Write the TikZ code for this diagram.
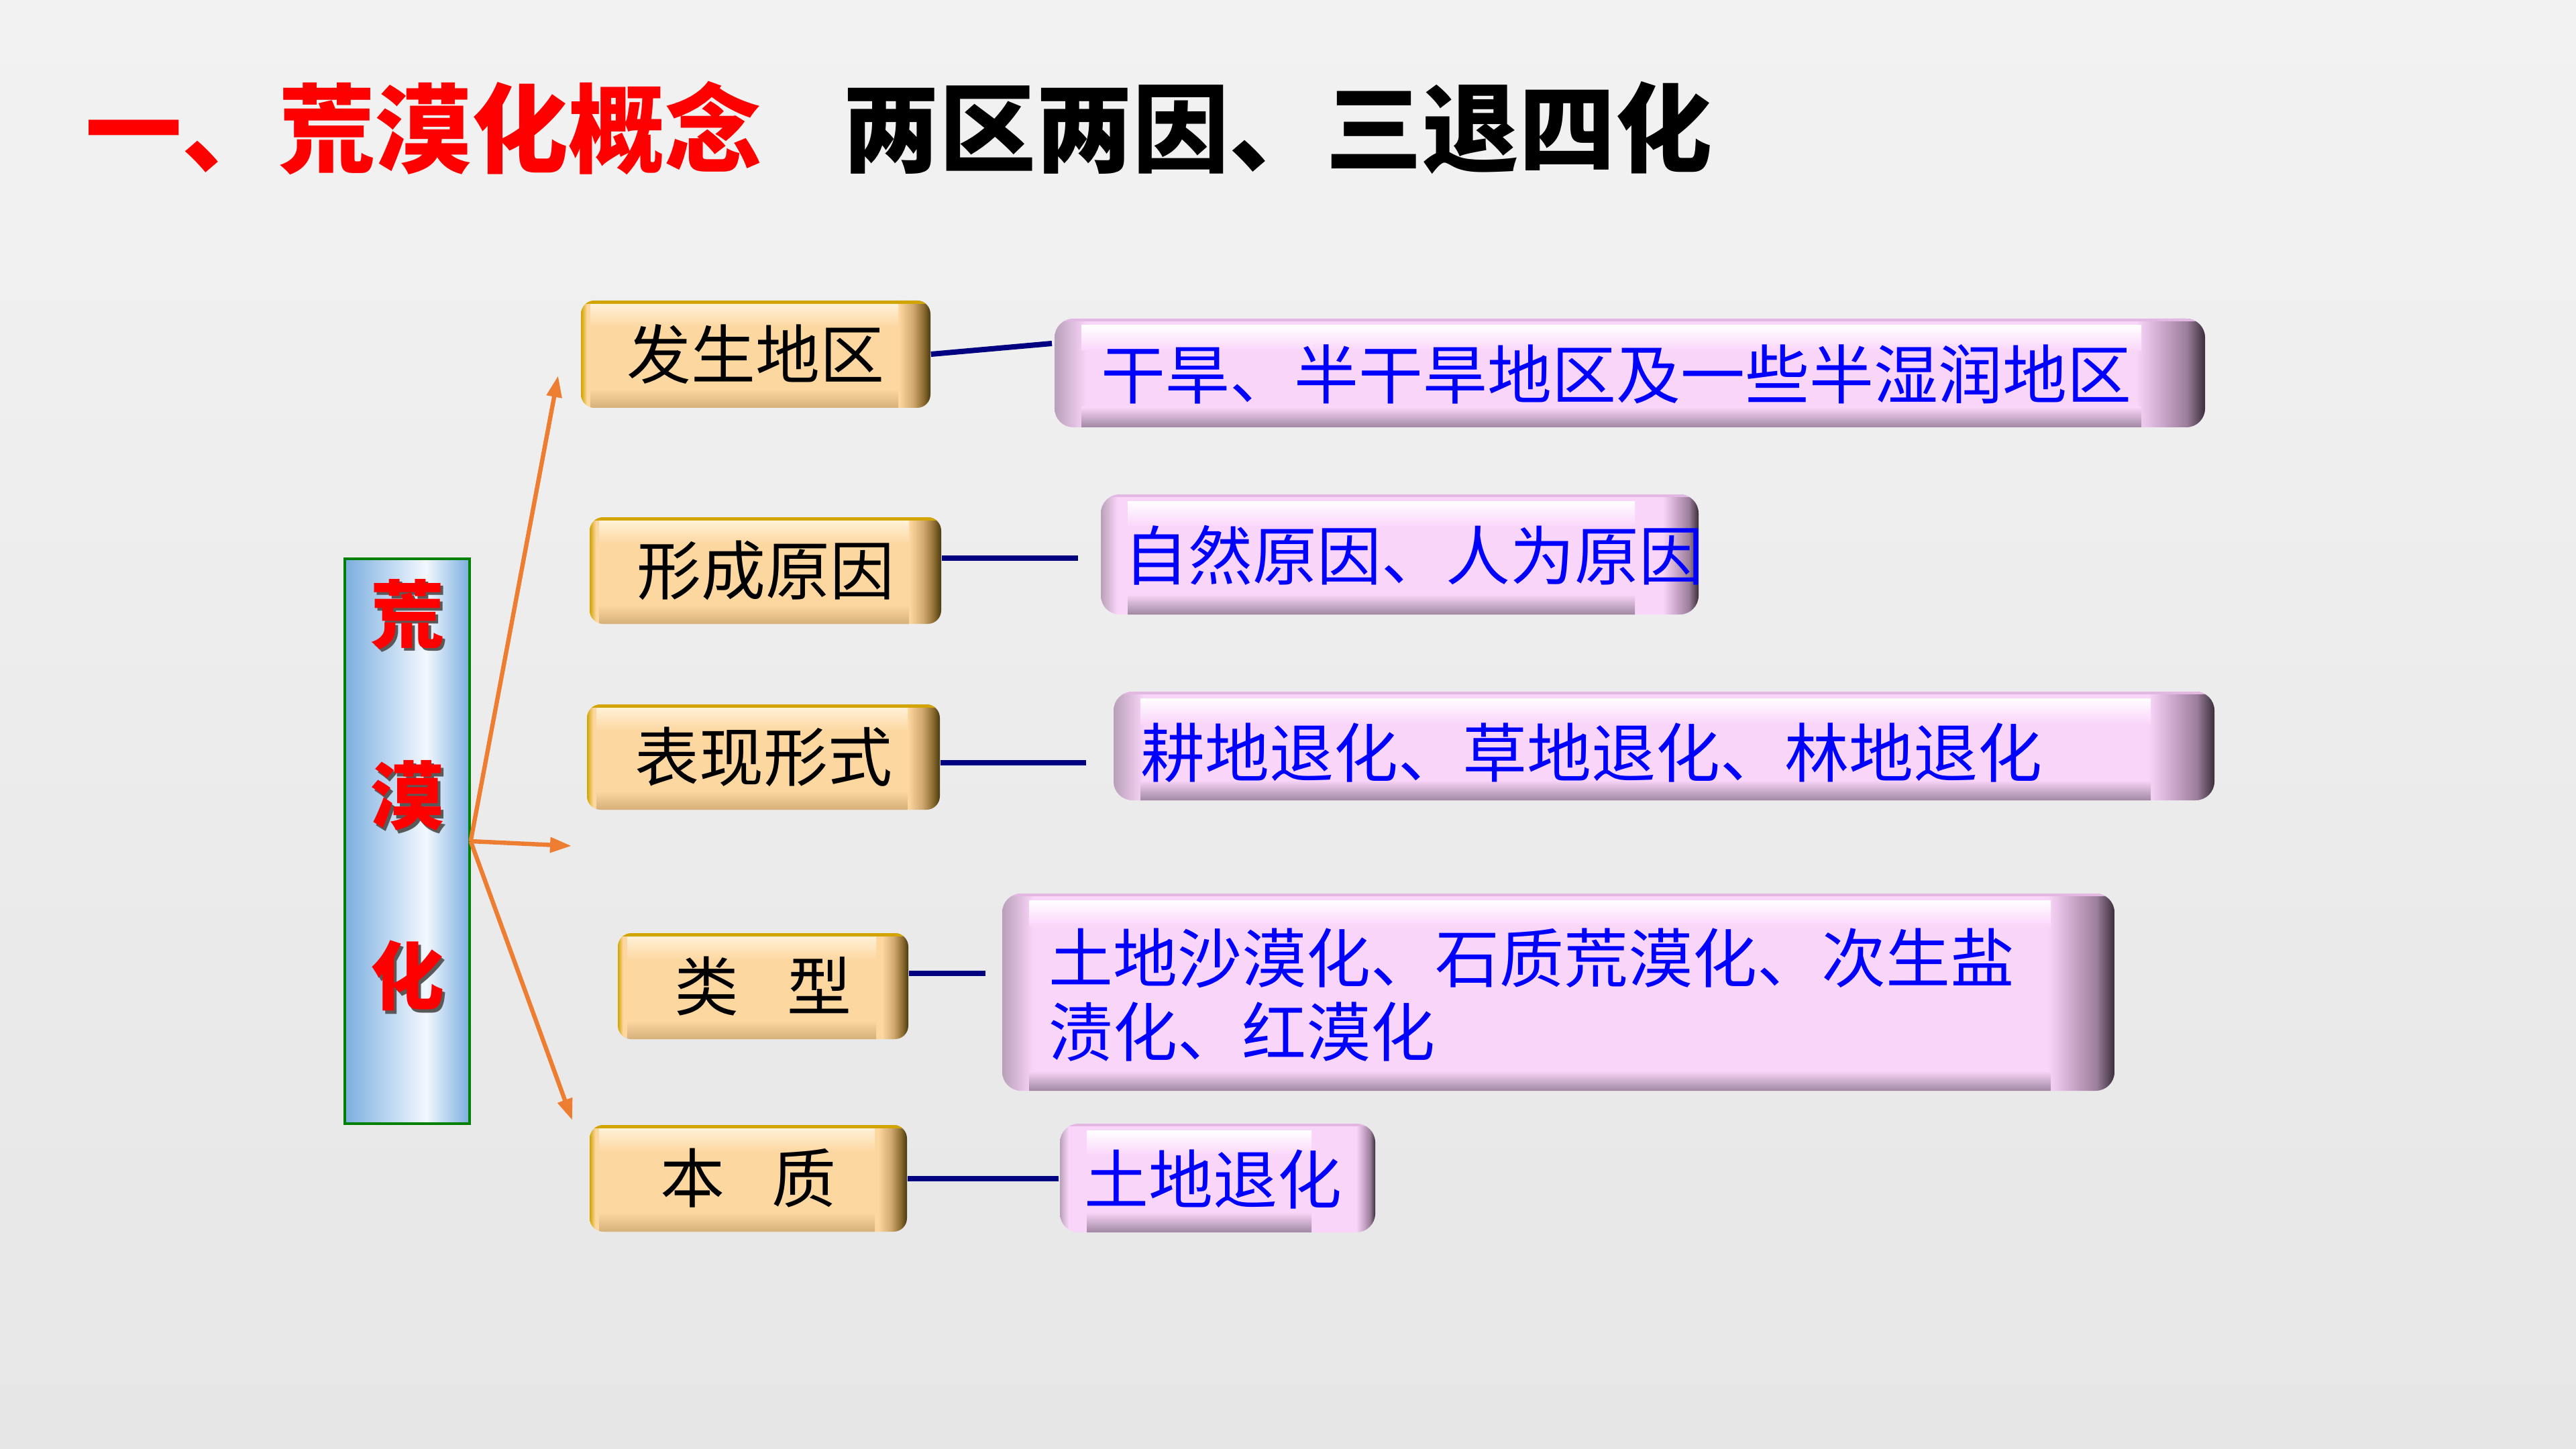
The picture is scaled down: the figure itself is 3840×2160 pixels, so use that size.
\documentclass[tikz,border=0pt]{standalone}
\usepackage{fontspec}
\newfontfamily\cjk{Noto Sans CJK SC}
\usetikzlibrary{fit,calc,arrows.meta}
\definecolor{bgTop}{HTML}{F2F2F2}
\definecolor{bgBot}{HTML}{E6E6E6}
\definecolor{peach}{HTML}{FDD7A0}
\definecolor{peachHi}{HTML}{FFF1D8}
\definecolor{peachLo}{HTML}{D6B07A}
\definecolor{pgold}{HTML}{D2A400}
\definecolor{pbrA}{HTML}{D0A870}
\definecolor{pbrB}{HTML}{8C6C30}
\definecolor{pbrC}{HTML}{4A3A10}
\definecolor{pinkM}{HTML}{FAD5FA}
\definecolor{pinkLo}{HTML}{A088A2}
\definecolor{pinkTop}{HTML}{E2B8E2}
\definecolor{pinkL}{HTML}{B8A0B8}
\definecolor{pinkR1}{HTML}{C8A4C8}
\definecolor{pinkR2}{HTML}{9A7E9A}
\definecolor{pinkR3}{HTML}{3A2D3A}
\definecolor{blueE}{HTML}{7BAEDF}
\definecolor{blueW}{HTML}{F3F8FE}
\definecolor{navyL}{HTML}{000080}
\definecolor{orangeA}{HTML}{ED7D31}
\pgfdeclarehorizontalshading{peachH}{100bp}{color(0bp)=(pgold); color(25bp)=(pgold); color(25.9bp)=(peach); color(70.5bp)=(peach); color(72.5bp)=(pbrA); color(74bp)=(pbrB); color(75bp)=(pbrC); color(100bp)=(pbrC)}
\pgfdeclarehorizontalshading{pinkH}{100bp}{color(0bp)=(pinkL); color(25bp)=(pinkL); color(26.4bp)=(pinkM); color(72bp)=(pinkM); color(73.2bp)=(pinkR1); color(74.2bp)=(pinkR2); color(75bp)=(pinkR3); color(100bp)=(pinkR3)}
\pgfdeclarehorizontalshading{blueH}{100bp}{color(0bp)=(blueE); color(25bp)=(blueE); color(57.5bp)=(blueW); color(75bp)=(blueE); color(100bp)=(blueE)}
\newcommand\boxfont{\cjk\fontsize{24}{27.5}\selectfont}
\newcommand\mysht[1]{\makebox[0pt][l]{\hspace{1.2pt}\raisebox{-1.2pt}{\textcolor{black!65}{#1}}}\textcolor{red}{#1}}
\tikzset{
  peachbox/.style={rounded corners=5pt, shading=peachH, inner sep=0pt, text=black, font=\boxfont,
    path picture={
      \coordinate (nw) at (path picture bounding box.north west);
      \coordinate (se) at (path picture bounding box.south east);
      \shade[sharp corners, top color=peachHi, bottom color=peach] ($(nw)+(14,5)$) rectangle ($(nw -| se)+(-48,40)$);
      \shade[sharp corners, top color=peach, bottom color=peachLo] ($(nw |- se)+(14,-28)$) rectangle ($(se)+(-48,0)$);
      \fill[sharp corners, pgold] (nw) rectangle ($(nw -| se)+(0,5)$);
    }},
  pinkbox/.style={rounded corners=7pt, shading=pinkH, inner sep=0pt,
    path picture={
      \coordinate (nw) at (path picture bounding box.north west);
      \coordinate (se) at (path picture bounding box.south east);
      \shade[sharp corners, top color=white, bottom color=pinkM] ($(nw)+(40,10)$) rectangle ($(nw -| se)+(-95,48)$);
      \shade[sharp corners, top color=pinkM, bottom color=pinkLo] ($(nw |- se)+(40,-30)$) rectangle ($(se)+(-95,0)$);
      \fill[sharp corners, pinkTop] (nw) rectangle ($(nw -| se)+(0,4)$);
    }},
  pinktext/.style={inner sep=0pt, text=blue, font=\boxfont, align=left},
  conn/.style={navyL, line width=2pt},
  arr/.style={orangeA, line width=1.6pt, -{Triangle[length=8pt,width=5.5pt]}},
  redchar/.style={inner sep=0pt, font=\cjk\bfseries\fontsize{27.5}{30}\selectfont},
  title/.style={inner sep=0pt, anchor=west, font=\cjk\bfseries\fontsize{36}{40}\selectfont}
}
\begin{document}
\begin{tikzpicture}[x=0.25pt, y=-0.25pt]
\useasboundingbox (0,0) rectangle (3840,2160);
\shade[top color=bgTop, bottom color=bgBot] (0,0) rectangle (3840,2160);
% title
\node[title, text=red] (tr) at (127,191) {一、荒漠化概念};
\node[title, text=black] (tb) at (1256,191) {两区两因、三退四化};
% left box
\node[fit={(514,833)(700,1675)}, inner sep=0pt, shading=blueH, draw=green!50!black, line width=0.8pt] (L) {};
\node[redchar] (c1) at (607,918) {\mysht{荒}};
\node[redchar] (c2) at (607,1188) {\mysht{漠}};
\node[redchar] (c3) at (607,1457) {\mysht{化}};
% peach boxes
\node[peachbox, minimum width=130.25pt, minimum height=40pt] (o1) at (1126.5,528) {发生地区};
\node[peachbox, minimum width=131pt, minimum height=39.75pt] (o2) at (1141,850.5) {形成原因};
\node[peachbox, minimum width=131.5pt, minimum height=39.25pt] (o3) at (1138,1128.5) {表现形式};
\node[peachbox, minimum width=108.25pt, minimum height=39.5pt] (o4) at (1137.5,1470) {类\hspace{0.75em}型\hspace{14pt}};
\node[peachbox, minimum width=118.25pt, minimum height=39.75pt] (o5) at (1115.5,1756.5) {本\hspace{0.72em}质\hspace{22pt}};
% pink boxes
\node[pinkbox, fit={(1572,475)(3287,637)}] (p1) {};
\node[pinkbox, fit={(1641,737)(2532,916)}] (p2) {};
\node[pinkbox, fit={(1660,1031)(3301,1193)}] (p3) {};
\node[pinkbox, fit={(1494,1332)(3152,1626)}] (p4) {};
\node[pinkbox, fit={(1580,1675)(2050,1837)}] (p5) {};
\node[pinktext, anchor=west] (t1) at (1641,558) {干旱、半干旱地区及一些半湿润地区};
\node[pinktext, anchor=west] (t2) at (1675,828) {自然原因、人为原因};
\node[pinktext, anchor=west] (t3) at (1700,1122) {耕地退化、草地退化、林地退化};
\node[pinktext, anchor=west] (t4) at (1563,1483) {土地沙漠化、石质荒漠化、次生盐\\渍化、红漠化};
\node[pinktext] (t5) at (1808,1758) {土地退化};
% arrows
\coordinate (a1) at (832,560);
\coordinate (a2) at (852,1261);
\coordinate (a3) at (853,1670);
\draw[arr] (L.east) -- (a1);
\draw[arr] (L.east) -- (a2);
\draw[arr] (L.east) -- (a3);
% connectors
\coordinate (e1) at (1568,512);
\coordinate (e2) at (1607,832);
\coordinate (e3) at (1619,1137);
\coordinate (e4) at (1469,1451);
\coordinate (e5) at (1578,1757);
\draw[conn] (o1.east) -- (e1);
\draw[conn] (o2.east |- e2) -- (e2);
\draw[conn] (o3.east |- e3) -- (e3);
\draw[conn] (o4.east |- e4) -- (e4);
\draw[conn] (o5.east |- e5) -- (e5);
\end{tikzpicture}
\end{document}
